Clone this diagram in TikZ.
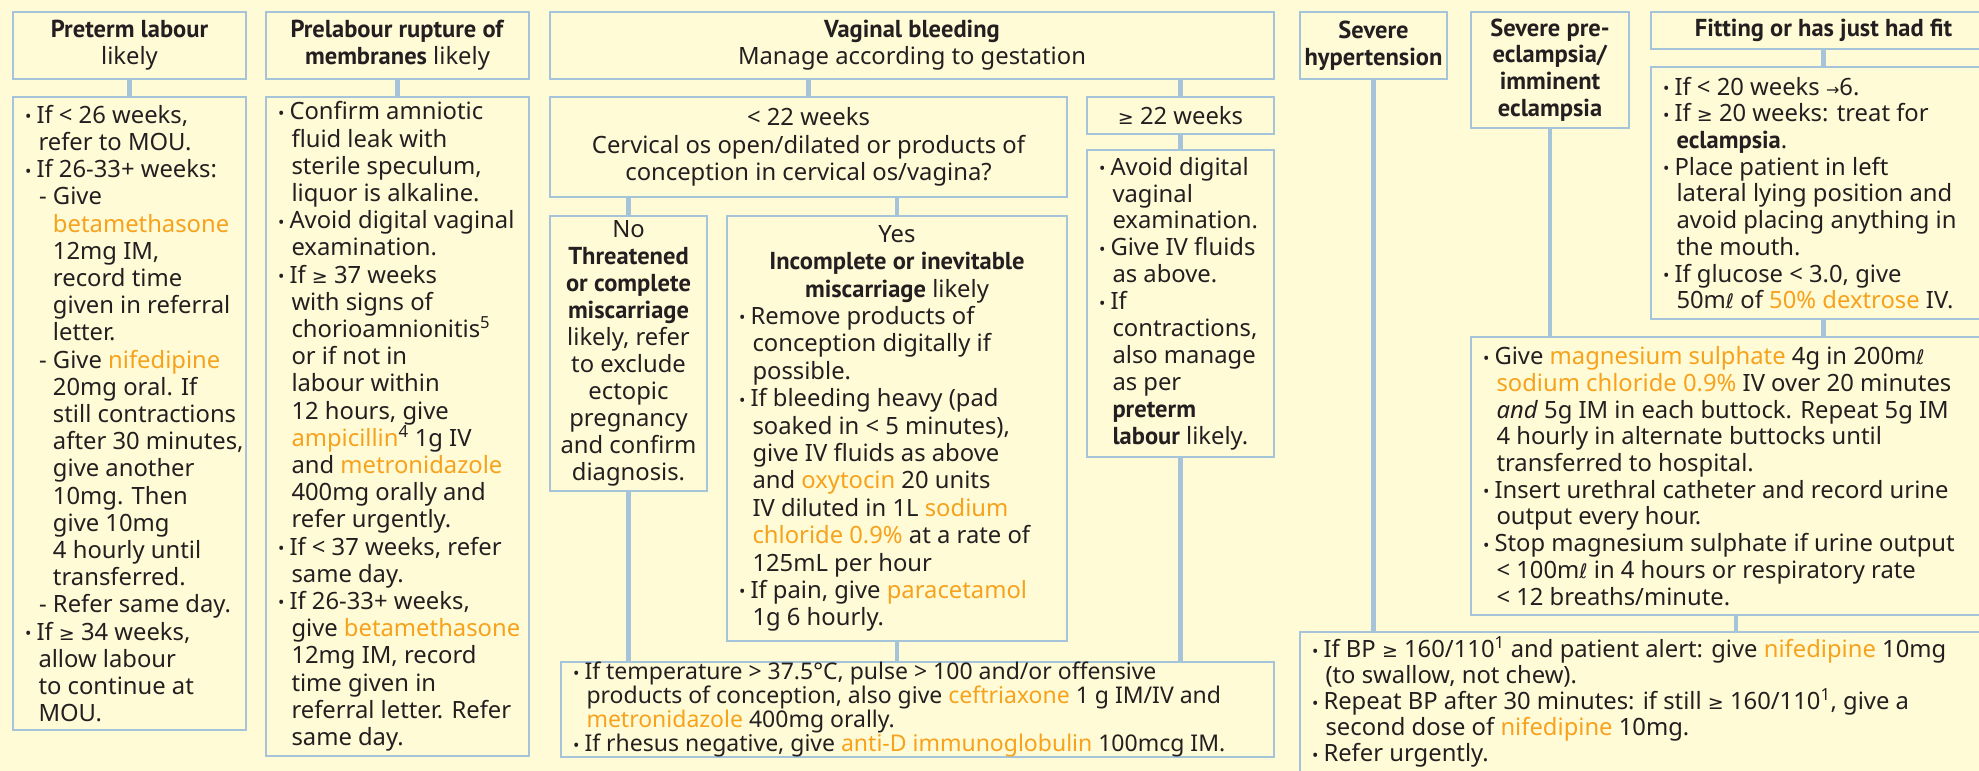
\documentclass[tikz,border=0pt]{standalone}
\usepackage{fontspec}
\setmainfont{Noto Sans}[BoldFont={PT Sans Bold}, BoldFeatures={Scale=1.03}]
\newfontfamily\symf{DejaVu Sans}
\usetikzlibrary{calc}
\definecolor{bgc}{HTML}{FFFBD7}
\definecolor{bord}{HTML}{A6C4D9}
\definecolor{drug}{HTML}{F7A21C}
\definecolor{ink}{HTML}{231F20}
\newcommand\dr[1]{\textcolor{drug}{#1}}
\newcommand\GE{{\symf\fontsize{19}{19}\selectfont ≥}}
\newcommand\ELL{{\symf\fontsize{20}{20}\selectfont ℓ}}
\newcommand\ARR{{\symf\fontsize{16}{16}\selectfont →}}
\newcommand\bul{\makebox[11.5pt][l]{\raisebox{0.6pt}{\fontsize{17}{17}\selectfont •}}}
\newcommand\cont{\hspace*{13.5pt}}
\newcommand\sdash{\hspace*{14pt}\makebox[14pt][l]{-}}
\newcommand\subc{\hspace*{28pt}}
\newcommand\LB[2]{\makebox[#1][l]{\parbox[t]{900pt}{#2}}}
\tikzset{
  every node/.style={font=\fontsize{23.8}{27}\selectfont, text=ink},
  lead/.style={font=\fontsize{23.8}{#1}\selectfont},
  bx/.style={draw=bord, line width=2pt, fill=bgc, inner sep=0pt, anchor=north west},
  hd/.style={bx, align=center},
  cb/.style={bx, inner xsep=12pt},
  conn/.style={draw=bord, line width=4.5pt}
}
\begin{document}
\begin{tikzpicture}[x=1pt,y=-1pt]
\useasboundingbox (0,0) rectangle (1979,771);
\clip (0,0) rectangle (1979,771);
\fill[bgc] (0,0) rectangle (1979,771);

% Preterm labour
\node[hd, minimum width=233pt, minimum height=67pt] (plh) at (12,11) {\textbf{Preterm labour}\\likely};
\node[cb, lead=27.2, minimum width=233pt, minimum height=633pt] (pl) at (12,96) {\LB{209pt}{%
\bul If < 26 weeks,\\
\cont refer to MOU.\\
\bul If 26-33+ weeks:\\
\sdash Give\\
\subc\dr{betamethasone}\\
\subc 12mg IM,\\
\subc record time\\
\subc given in referral\\
\subc letter.\\
\sdash Give \dr{nifedipine}\\
\subc 20mg oral. If\\
\subc still contractions\\
\subc after 30 minutes,\\
\subc give another\\
\subc 10mg. Then\\
\subc give 10mg\\
\subc 4 hourly until\\
\subc transferred.\\
\sdash Refer same day.\\
\bul If \GE{} 34 weeks,\\
\cont allow labour\\
\cont to continue at\\
\cont MOU.}};

% Prelabour rupture
\node[hd, minimum width=263pt, minimum height=67pt] (prh) at (265,11) {\textbf{Prelabour rupture of}\\\textbf{membranes} likely};
\node[cb, lead=27.2, minimum width=263pt, minimum height=659pt] (pr) at (265,96) {\LB{239pt}{%
\bul Confirm amniotic\\
\cont fluid leak with\\
\cont sterile speculum,\\
\cont liquor is alkaline.\\
\bul Avoid digital vaginal\\
\cont examination.\\
\bul If \GE{} 37 weeks\\
\cont with signs of\\
\cont chorioamnionitis\textsuperscript{5}\\
\cont or if not in\\
\cont labour within\\
\cont 12 hours, give\\
\cont\dr{ampicillin}\textsuperscript{4} 1g IV\\
\cont and \dr{metronidazole}\\
\cont 400mg orally and\\
\cont refer urgently.\\
\bul If < 37 weeks, refer\\
\cont same day.\\
\bul If 26-33+ weeks,\\
\cont give \dr{betamethasone}\\
\cont 12mg IM, record\\
\cont time given in\\
\cont referral letter. Refer\\
\cont same day.}};

% Vaginal bleeding
\node[hd, minimum width=724pt, minimum height=67pt] (vbh) at (549,11) {\textbf{Vaginal bleeding}\\Manage according to gestation};
\node[hd, lead=27.4, minimum width=517pt, minimum height=100pt] (lt) at (549,96) {< 22 weeks\\Cervical os open/dilated or products of\\conception in cervical os/vagina?};
\node[hd, minimum width=187pt, minimum height=37pt] (ge) at (1086,96) {\GE{} 22 weeks};
\node[cb, lead=26.9, minimum width=187pt, minimum height=307pt] (gec) at (1086,149) {\LB{163pt}{%
\bul Avoid digital\\
\cont vaginal\\
\cont examination.\\
\bul Give IV fluids\\
\cont as above.\\
\bul If\\
\cont contractions,\\
\cont also manage\\
\cont as per\\
\cont\textbf{preterm}\\
\cont\textbf{labour} likely.}};
\node[hd, lead=27, minimum width=157pt, minimum height=275pt] (no) at (549,215) {No\\\textbf{Threatened}\\\textbf{or complete}\\\textbf{miscarriage}\\likely, refer\\to exclude\\ectopic\\pregnancy\\and confirm\\diagnosis.};
\node[cb, lead=27.4, minimum width=340pt, minimum height=425pt] (yes) at (726,215) {\LB{316pt}{%
\makebox[316pt][c]{Yes}\\
\makebox[316pt][c]{\textbf{Incomplete or inevitable}}\\
\makebox[316pt][c]{\textbf{miscarriage} likely}\\
\bul Remove products of\\
\cont conception digitally if\\
\cont possible.\\
\bul If bleeding heavy (pad\\
\cont soaked in < 5 minutes),\\
\cont give IV fluids as above\\
\cont and \dr{oxytocin} 20 units\\
\cont IV diluted in 1L \dr{sodium}\\
\cont\dr{chloride 0.9\%} at a rate of\\
\cont 125mL per hour\\
\bul If pain, give \dr{paracetamol}\\
\cont 1g 6 hourly.}};
\node[cb, font=\fontsize{23}{24}\selectfont, minimum width=713pt, minimum height=93pt] (tp) at (560,661) {\LB{689pt}{%
\bul If temperature > 37.5°C, pulse > 100 and/or offensive\\
\cont products of conception, also give \dr{ceftriaxone} 1 g IM/IV and\\
\cont\dr{metronidazole} 400mg orally.\\
\bul If rhesus negative, give \dr{anti-D immunoglobulin} 100mcg IM.}};

% Severe hypertension
\node[hd, minimum width=147pt, minimum height=67pt] (sh) at (1299,11) {\textbf{Severe}\\\textbf{hypertension}};
\node[hd, lead=26.8, minimum width=158pt, minimum height=116pt] (pe) at (1470,11) {\textbf{Severe pre-}\\\textbf{eclampsia/}\\\textbf{imminent}\\\textbf{eclampsia}};
\node[hd, minimum width=345pt, minimum height=37pt] (fh) at (1650,11) {\textbf{Fitting or has just had fit}};
\node[cb, lead=26.7, minimum width=345pt, minimum height=252pt] (fc) at (1650,66) {\LB{321pt}{%
\bul If < 20 weeks \ARR6.\\
\bul If \GE{} 20 weeks: treat for\\
\cont\textbf{eclampsia}.\\
\bul Place patient in left\\
\cont lateral lying position and\\
\cont avoid placing anything in\\
\cont the mouth.\\
\bul If glucose < 3.0, give\\
\cont 50m\ELL{} of \dr{50\% dextrose} IV.}};
\node[cb, lead=26.7, minimum width=530pt, minimum height=278pt] (mg) at (1470,336) {\LB{506pt}{%
\bul Give \dr{magnesium sulphate} 4g in 200m\ELL\\
\cont\dr{sodium chloride 0.9\%} IV over 20 minutes\\
\cont\textit{and} 5g IM in each buttock. Repeat 5g IM\\
\cont 4 hourly in alternate buttocks until\\
\cont transferred to hospital.\\
\bul Insert urethral catheter and record urine\\
\cont output every hour.\\
\bul Stop magnesium sulphate if urine output\\
\cont < 100m\ELL{} in 4 hours or respiratory rate\\
\cont < 12 breaths/minute.}};
\node[cb, lead=26, minimum width=700pt, minimum height=140pt] (bp) at (1299,631) {\LB{676pt}{%
\bul If BP \GE{} 160/110\textsuperscript{1} and patient alert: give \dr{nifedipine} 10mg\\
\cont (to swallow, not chew).\\
\bul Repeat BP after 30 minutes: if still \GE{} 160/110\textsuperscript{1}, give a\\
\cont second dose of \dr{nifedipine} 10mg.\\
\bul Refer urgently.}};

% connectors
\draw[conn] (plh.south) -- (pl.north);
\draw[conn] (prh.south) -- (pr.north);
\draw[conn] (lt.north |- vbh.south) -- (lt.north);
\draw[conn] (ge.north |- vbh.south) -- (ge.north);
\draw[conn] (ge.south) -- (gec.north);
\draw[conn] (no.north |- lt.south) -- (no.north);
\draw[conn] (yes.north |- lt.south) -- (yes.north);
\draw[conn] (no.south) -- (no.south |- tp.north);
\draw[conn] (yes.south) -- (yes.south |- tp.north);
\draw[conn] (gec.south) -- (gec.south |- tp.north);
\draw[conn] (sh.south) -- (sh.south |- bp.north);
\draw[conn] (pe.south) -- (pe.south |- mg.north);
\draw[conn] (fh.south) -- (fc.north);
\draw[conn] (fc.south) -- (fc.south |- mg.north);
\draw[conn] (mg.south) -- (mg.south |- bp.north);
\end{tikzpicture}
\end{document}
